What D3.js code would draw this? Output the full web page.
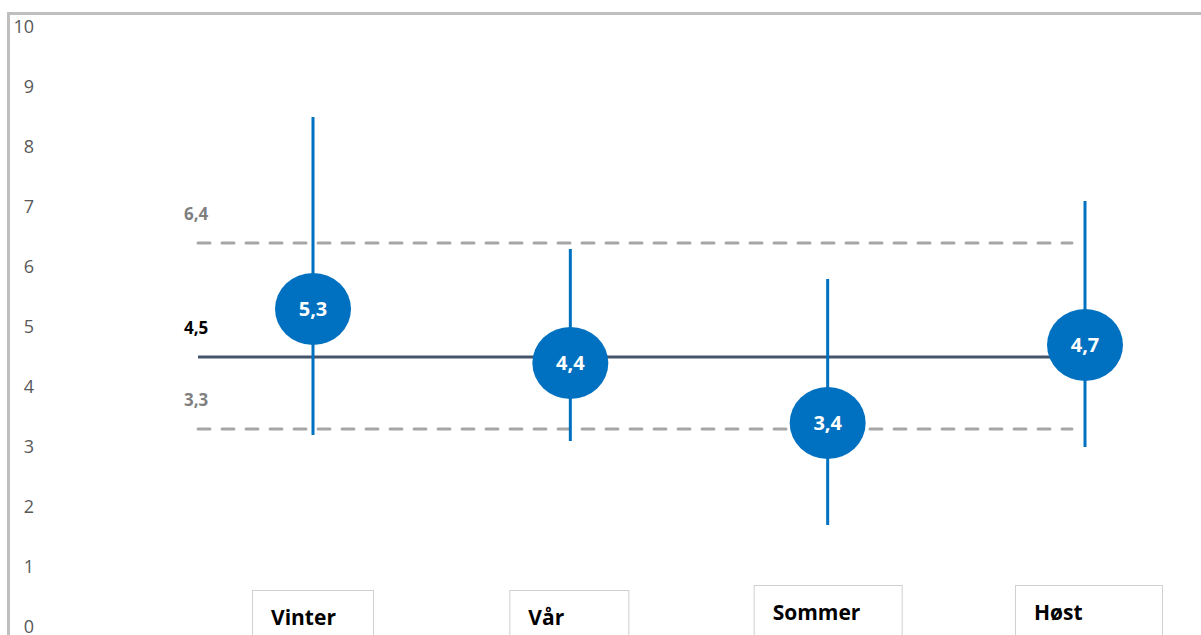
<!DOCTYPE html>
<html>
<head>
<meta charset="utf-8">
<script src="https://cdn.jsdelivr.net/npm/d3@7/dist/d3.min.js"></script>
<style>
  html, body { margin: 0; padding: 0; background: #fff; }
  svg { display: block; }
</style>
</head>
<body>
<svg id="chart" width="1201" height="635"></svg>
<script>
// ---- data ----
const categories = ["Vinter", "Vår", "Sommer", "Høst"];
const meanValues = [5.3, 4.4, 3.4, 4.7];
const highValues = [8.5, 6.3, 5.8, 7.1];
const lowValues  = [3.2, 3.1, 1.7, 3.0];
const yTicks = [0, 1, 2, 3, 4, 5, 6, 7, 8, 9, 10];
const overallMean = 4.5;
const upperLimit = 6.4;
const lowerLimit = 3.3;

const fmt = v => String(v).replace(".", ",");

const svg = d3.select("#chart");
const W = 1201, H = 635;
const FONT = "'Open Sans', 'Noto Sans', sans-serif";

const y = d3.scaleLinear().domain([0, 10]).range([627, 27]);
const x = d3.scalePoint().domain(categories).range([313, 1085]);

const blue = "#0070C0";
const lineX0 = 198, lineX1 = 1072;

// frame
svg.append("path")
  .attr("d", `M8.5,${H} L8.5,13.5 L${W},13.5`)
  .attr("fill", "none")
  .attr("stroke", "#BFBFBF")
  .attr("stroke-width", 3);

// y axis labels
const yAxis = d3.axisLeft(y).tickValues(yTicks).tickSize(0).tickPadding(0).tickFormat(d => d);
const yg = svg.append("g").attr("transform", "translate(34,0)").call(yAxis);
yg.select(".domain").remove();
yg.selectAll("text")
  .attr("fill", "#595959")
  .attr("font-family", FONT)
  .attr("font-size", 18)
  .attr("dy", "0.3em");

// reference lines
function refLine(v, color, dashed) {
  const l = svg.append("line")
    .attr("x1", lineX0).attr("x2", lineX1)
    .attr("y1", y(v)).attr("y2", y(v))
    .attr("stroke", color).attr("stroke-width", 3);
  if (dashed) l.attr("stroke-dasharray", "12,12").attr("stroke-linecap", "round");
}
refLine(upperLimit, "#A6A6A6", true);
refLine(lowerLimit, "#A6A6A6", true);
refLine(overallMean, "#44546A", false);

// reference labels
const refLabels = [
  { v: upperLimit, color: "#7F7F7F" },
  { v: overallMean, color: "#000000" },
  { v: lowerLimit, color: "#7F7F7F" }
];
svg.selectAll("text.ref").data(refLabels).enter().append("text")
  .attr("class", "ref")
  .attr("x", 184)
  .attr("y", d => y(d.v) - 23)
  .attr("fill", d => d.color)
  .attr("font-family", FONT)
  .attr("font-weight", "bold")
  .attr("font-size", 17)
  .text(d => fmt(d.v));

// error bars
const rows = categories.map((c, i) => ({ c, m: meanValues[i], hi: highValues[i], lo: lowValues[i], i }));
svg.selectAll("line.err").data(rows).enter().append("line")
  .attr("class", "err")
  .attr("x1", d => x(d.c)).attr("x2", d => x(d.c))
  .attr("y1", d => y(d.hi)).attr("y2", d => y(d.lo))
  .attr("stroke", blue).attr("stroke-width", 3);

// mean markers
svg.selectAll("ellipse.pt").data(rows).enter().append("ellipse")
  .attr("class", "pt")
  .attr("cx", d => x(d.c)).attr("cy", d => y(d.m))
  .attr("rx", 38).attr("ry", 36)
  .attr("fill", blue);
svg.selectAll("text.pt").data(rows).enter().append("text")
  .attr("class", "pt")
  .attr("x", d => x(d.c)).attr("y", d => y(d.m))
  .attr("dy", "0.36em")
  .attr("text-anchor", "middle")
  .attr("fill", "#fff")
  .attr("font-family", FONT)
  .attr("font-weight", "bold")
  .attr("font-size", 20)
  .text(d => fmt(d.m));

// category label boxes
const boxTops = [590, 590, 585, 585];
const boxOffsets = [61, 61, 74, 70];
const boxWidths = [121, 119, 148, 147];
const g = svg.selectAll("g.cat").data(rows).enter().append("g").attr("class", "cat");
g.each(function(d) {
  const sel = d3.select(this);
  const left = x(d.c) - boxOffsets[d.i];
  const top = boxTops[d.i];
  sel.append("rect")
    .attr("x", left + 0.5).attr("y", top + 0.5)
    .attr("width", boxWidths[d.i]).attr("height", 80)
    .attr("fill", "#fff").attr("stroke", "#D0D0D0").attr("stroke-width", 1);
  sel.append("text")
    .attr("x", left + 19).attr("y", top + 35)
    .attr("font-family", FONT)
    .attr("font-weight", "bold")
    .attr("font-size", 21)
    .attr("fill", "#000")
    .text(d.c);
});
</script>
</body>
</html>
